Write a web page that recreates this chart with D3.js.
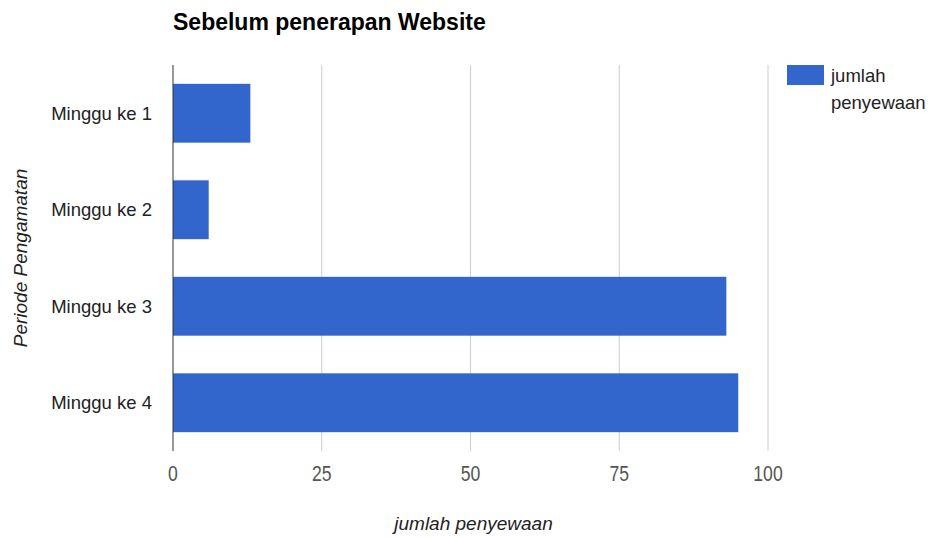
<!DOCTYPE html>
<html>
<head>
<meta charset="utf-8">
<script src="https://cdn.jsdelivr.net/npm/d3@7"></script>
<style>
  body { margin: 0; background: #fff; }
  text { font-family: "Liberation Sans", Arial, sans-serif; }
</style>
</head>
<body>
<div id="chart"></div>
<script>
const categories = ['Minggu ke 1', 'Minggu ke 2', 'Minggu ke 3', 'Minggu ke 4'];
const values = [13, 6, 93, 95];
const xTicks = [0, 25, 50, 75, 100];
const seriesName = 'jumlah penyewaan';

const width = 929;
const height = 538;
const margin = { top: 65, right: 161, bottom: 87, left: 173 };

const svg = d3.select('#chart')
  .append('svg')
  .attr('width', width)
  .attr('height', height);

const x = d3.scaleLinear()
  .domain([0, 100])
  .range([margin.left, width - margin.right]);

const y = d3.scaleBand()
  .domain(categories)
  .range([margin.top, height - margin.bottom])
  .paddingInner(0.39)
  .paddingOuter(0.195);

// gridlines
svg.append('g')
  .selectAll('line')
  .data(xTicks.slice(1))
  .enter().append('line')
  .attr('x1', (d) => x(d))
  .attr('x2', (d) => x(d))
  .attr('y1', margin.top)
  .attr('y2', height - margin.bottom)
  .attr('stroke', '#cccccc')
  .attr('stroke-width', 1);

// bars
svg.append('g')
  .selectAll('rect')
  .data(values)
  .enter().append('rect')
  .attr('x', x(0))
  .attr('y', (d, i) => y(categories[i]))
  .attr('width', (d) => x(d) - x(0))
  .attr('height', y.bandwidth())
  .attr('fill', '#3366cc');

// baseline
svg.append('line')
  .attr('x1', x(0))
  .attr('x2', x(0))
  .attr('y1', margin.top)
  .attr('y2', height - margin.bottom)
  .attr('stroke', '#333333')
  .attr('stroke-width', 1);

// x tick labels (narrow, tall digits like the original)
svg.append('g')
  .selectAll('text')
  .data(xTicks)
  .enter().append('text')
  .attr('transform', (d) => `translate(${x(d)},481) scale(0.8,1)`)
  .attr('text-anchor', 'middle')
  .attr('font-size', 22)
  .attr('fill', '#555555')
  .text((d) => d);

// category labels
svg.append('g')
  .selectAll('text')
  .data(categories)
  .enter().append('text')
  .attr('x', 152)
  .attr('y', (d) => y(d) + y.bandwidth() / 2)
  .attr('dy', '0.36em')
  .attr('text-anchor', 'end')
  .attr('font-size', 18.5)
  .attr('fill', '#222222')
  .text((d) => d);

// title
svg.append('text')
  .attr('x', 173)
  .attr('y', 30)
  .attr('font-size', 23)
  .attr('font-weight', 'bold')
  .attr('fill', '#000000')
  .text('Sebelum penerapan Website');

// axis titles
svg.append('text')
  .attr('x', (x(0) + x(100)) / 2 + 3)
  .attr('y', 530)
  .attr('text-anchor', 'middle')
  .attr('font-size', 19)
  .attr('font-style', 'italic')
  .attr('fill', '#222222')
  .text(seriesName);

svg.append('text')
  .attr('transform', `translate(27,${(margin.top + height - margin.bottom) / 2}) rotate(-90)`)
  .attr('text-anchor', 'middle')
  .attr('font-size', 19)
  .attr('font-style', 'italic')
  .attr('fill', '#222222')
  .text('Periode Pengamatan');

// legend
const legend = svg.append('g');
legend.append('rect')
  .attr('x', 787)
  .attr('y', 65)
  .attr('width', 37)
  .attr('height', 20)
  .attr('fill', '#3366cc');
legend.append('text')
  .attr('x', 831)
  .attr('y', 82)
  .attr('font-size', 18.5)
  .attr('fill', '#222222')
  .selectAll('tspan')
  .data(seriesName.split(' '))
  .enter().append('tspan')
  .attr('x', 831)
  .attr('dy', (d, i) => (i === 0 ? 0 : 27))
  .text((d) => d);
</script>
</body>
</html>
